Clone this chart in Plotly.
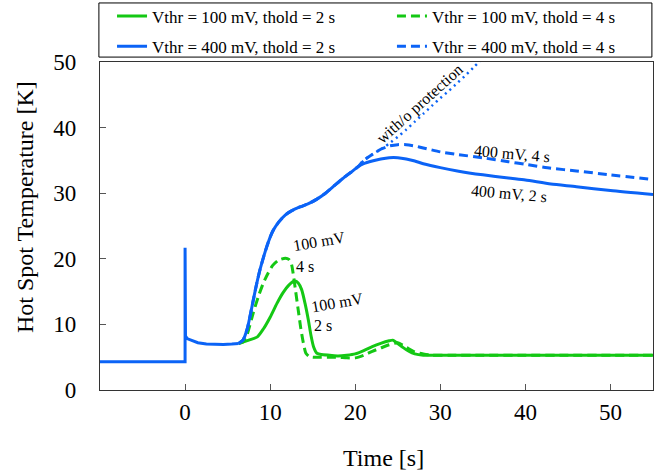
import plotly.graph_objects as go

# ---- shared start: ambient level, switch-on spike, short plateau ----
t_start = [-10, -5, 0, 0, 0.05, 0.3, 0.8, 1.5, 2.5, 3.5, 4.5, 5.5, 6.3]
T_start = [4.3, 4.3, 4.3, 21.7, 8.2, 7.8, 7.5, 7.2, 7.0, 6.95, 6.95, 7.0, 7.1]

# ---- 400 mV: common heating ramp ----
t_ramp = [6.8, 7.3, 7.8, 8.3, 8.8, 9.3, 9.8, 10.3, 11.0, 11.8, 12.5, 13.5, 14.5,
          15.5, 16.5, 17.5, 18.5, 19.5, 20.3]
T_ramp = [7.6, 9.3, 12.3, 15.5, 18.3, 20.6, 22.6, 24.2, 25.6, 26.7, 27.3, 27.9, 28.4,
          29.1, 30.0, 31.1, 32.2, 33.2, 34.0]

# 400 mV, thold = 2 s
t_b2 = [21, 22, 23, 24, 25, 26, 27, 28, 30, 32, 35, 38, 40, 43, 46, 50, 55]
T_b2 = [34.5, 34.9, 35.2, 35.4, 35.4, 35.2, 34.9, 34.5, 33.9, 33.4, 32.8, 32.3,
        32.0, 31.4, 31.0, 30.4, 29.8]

# 400 mV, thold = 4 s
t_b4 = [21, 22, 23, 24, 25, 26, 27, 28, 30, 32, 35, 38, 40, 43, 46, 50, 55]
T_b4 = [35.0, 35.9, 36.7, 37.2, 37.4, 37.4, 37.2, 36.9, 36.3, 35.9, 35.4, 34.8,
        34.4, 33.8, 33.4, 32.8, 32.1]

# without protection
t_np = [21, 22, 23, 23.5, 24, 25, 26, 27, 28, 29, 30, 31, 32, 33, 34, 35]
T_np = [35.0, 35.9, 36.7, 37.1, 37.6, 38.6, 39.7, 40.9, 42.1, 43.3, 44.5, 45.6,
        46.8, 48.0, 49.3, 50.6]

# 100 mV, thold = 2 s
t_g2 = [6.8, 7.5, 8.5, 9.2, 10.0, 10.8, 11.5, 12.2, 12.9, 13.3, 13.7, 14.1, 14.5,
        14.8, 15.1, 15.5, 16, 17, 18, 19, 20, 21, 22, 23, 24, 24.4, 25, 25.6, 26.3,
        27, 28, 30, 35, 40, 45, 50, 55]
T_g2 = [7.3, 7.6, 8.1, 9.3, 11.1, 13.2, 14.8, 16.0, 16.6, 16.3, 15.3, 13.2, 10.6,
        8.3, 6.6, 5.6, 5.4, 5.3, 5.2, 5.3, 5.5, 6.0, 6.6, 7.1, 7.5, 7.6, 7.1, 6.5,
        5.9, 5.5, 5.3, 5.3, 5.3, 5.3, 5.3, 5.3, 5.3]

# 100 mV, thold = 4 s
t_g4 = [6.8, 7.3, 8.0, 8.6, 9.2, 9.8, 10.3, 11.0, 11.8, 12.2, 12.5, 12.7, 13.0,
        13.3, 13.6, 13.9, 14.2, 14.6, 15.0, 16, 17, 18, 19, 20, 21, 22, 23, 24,
        25, 26, 27, 28, 29, 31, 35, 40, 45, 50, 55]
T_g4 = [7.3, 8.5, 11.7, 14.2, 16.3, 17.9, 19.0, 19.8, 20.1, 19.9, 19.2, 17.8, 15.0,
        12.2, 9.4, 7.2, 5.6, 5.1, 5.0, 5.0, 5.0, 5.0, 4.9, 4.9, 5.3, 5.9, 6.4, 6.9,
        7.2, 6.5, 5.8, 5.5, 5.3, 5.3, 5.3, 5.3, 5.3, 5.3, 5.3]

GREEN = "#14c814"
BLUE = "#0b63f6"
SERIF = "Liberation Serif, Times New Roman, serif"
DASH = "9px,5px"

fig = go.Figure()


def add(x, y, name, color, dash, legend, width=3, shape="spline"):
    fig.add_trace(go.Scatter(
        x=x, y=y, mode="lines", name=name,
        showlegend=legend is not None, legend=legend or "legend",
        legendgroup=name,
        line=dict(color=color, width=width, dash=dash, shape=shape, smoothing=0.6)))


s0 = ([t_start[-1]], [T_start[-1]])
add(s0[0] + t_g2, s0[1] + T_g2, "Vthr = 100 mV, thold = 2 s", GREEN, "solid", "legend")
add(s0[0] + t_g4, s0[1] + T_g4, "Vthr = 100 mV, thold = 4 s", GREEN, DASH, "legend2")
add(s0[0] + t_ramp + t_b2, s0[1] + T_ramp + T_b2, "Vthr = 400 mV, thold = 2 s", BLUE, "solid", "legend")
add(s0[0] + t_ramp + t_b4, s0[1] + T_ramp + T_b4, "Vthr = 400 mV, thold = 4 s", BLUE, DASH, "legend2")
add(t_ramp[-1:] + t_np, T_ramp[-1:] + T_np, "with/o protection", BLUE, "2px,4px", None, width=2.5)
# common pre-trigger segment with the switch-on spike
add(t_start, T_start, "start", BLUE, "solid", None, shape="linear")

labels = [
    (27.6, 43.6, "with/o protection", -42),
    (38.4, 36.1, "400 mV, 4 s", 5),
    (38.1, 30.0, "400 mV, 2 s", 5),
    (15.7, 22.6, "100 mV", -10),
    (14.1, 18.9, "4 s", 0),
    (17.9, 13.4, "100 mV", -10),
    (16.2, 9.9, "2 s", 0),
]
for x, y, txt, ang in labels:
    fig.add_annotation(x=x, y=y, text=txt, showarrow=False, textangle=ang,
                       font=dict(family=SERIF, size=16, color="black"))

# axis titles
fig.add_annotation(xref="paper", yref="paper", x=0.512, y=-0.207, text="Time [s]",
                   showarrow=False, xanchor="center", yanchor="middle",
                   font=dict(family=SERIF, size=24, color="black"))
fig.add_annotation(xref="paper", yref="paper", x=-0.1356, y=0.558,
                   text="Hot Spot Temperature [K]", textangle=-90,
                   showarrow=False, xanchor="center", yanchor="middle",
                   font=dict(family=SERIF, size=24, color="black"))

# legend frame
fig.add_shape(type="rect", xref="paper", yref="paper",
              x0=-0.002, x1=0.998, y0=1.015, y1=1.18,
              line=dict(color="black", width=1), fillcolor="white", layer="below")

axis_common = dict(
    showline=True, mirror=True, linecolor="#333", linewidth=1.2, automargin=False,
    ticks="inside", ticklen=6, tickcolor="#555", showgrid=False, zeroline=False,
    tickfont=dict(family=SERIF, size=23, color="black"),
)

legend_common = dict(
    orientation="v", xref="container", yref="container",
    xanchor="left", y=0.9335, yanchor="middle",
    bgcolor="rgba(0,0,0,0)", borderwidth=0, tracegroupgap=5,
    font=dict(family=SERIF, size=17, color="black"),
)

fig.update_layout(
    width=670, height=474,
    margin=dict(l=100, r=17, t=62, b=84, autoexpand=False),
    paper_bgcolor="white", plot_bgcolor="white",
    xaxis=dict(range=[-10, 55], tickvals=[0, 10, 20, 30, 40, 50],
               ticklabelstandoff=1, **axis_common),
    yaxis=dict(range=[0, 50], tickvals=[0, 10, 20, 30, 40, 50],
               ticklabelstandoff=18, **axis_common),
    legend=dict(x=0.1672, **legend_common),
    legend2=dict(x=0.585, **legend_common),
)

fig.write_html("out.html")
